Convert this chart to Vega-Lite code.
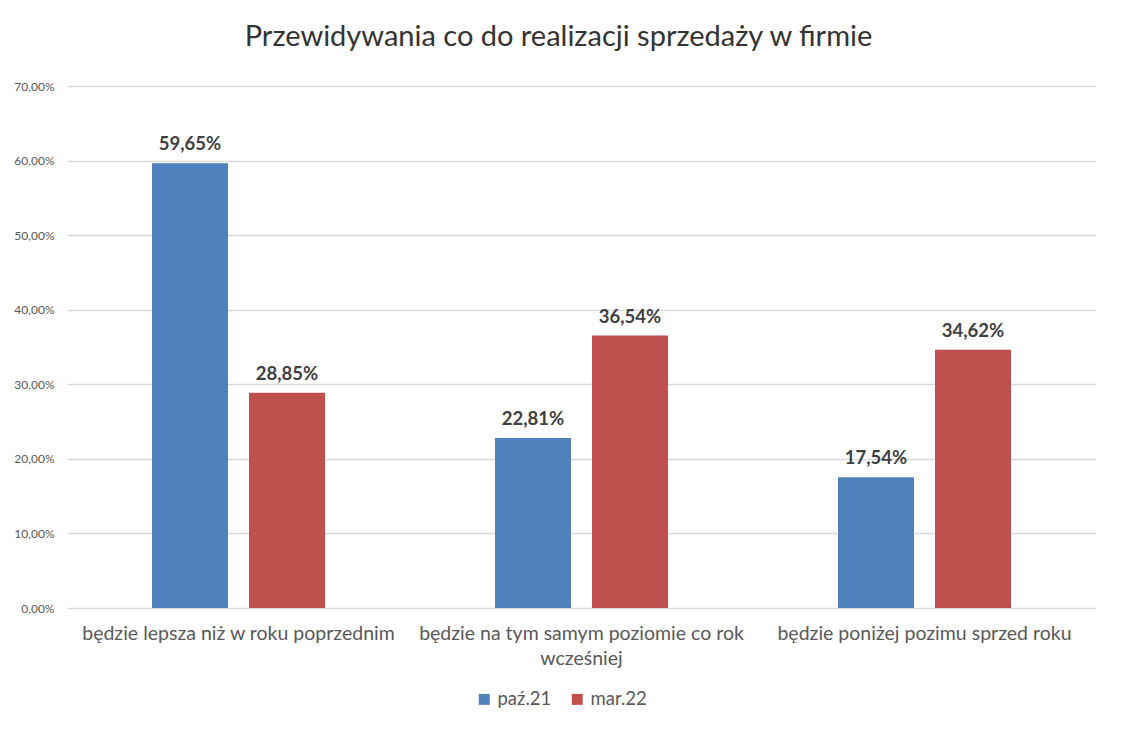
{
  "$schema": "https://vega.github.io/schema/vega-lite/v6.json",
  "autosize": "none",
  "width": 1029,
  "height": 522,
  "padding": {"left": 67, "top": 86, "right": 32, "bottom": 125},
  "background": "white",
  "title": {
    "text": "Przewidywania co do realizacji sprzedaży w firmie",
    "font": "Lato",
    "fontSize": 29,
    "fontWeight": "normal",
    "color": "#333333",
    "offset": 28,
    "dx": -23
  },
  "data": {
    "values": [
      {"kategoria": "będzie lepsza niż w roku poprzednim", "okres": "paź.21", "wartosc": 0.5965},
      {"kategoria": "będzie lepsza niż w roku poprzednim", "okres": "mar.22", "wartosc": 0.2885},
      {"kategoria": "będzie na tym samym poziomie co rok wcześniej", "okres": "paź.21", "wartosc": 0.2281},
      {"kategoria": "będzie na tym samym poziomie co rok wcześniej", "okres": "mar.22", "wartosc": 0.3654},
      {"kategoria": "będzie poniżej pozimu sprzed roku", "okres": "paź.21", "wartosc": 0.1754},
      {"kategoria": "będzie poniżej pozimu sprzed roku", "okres": "mar.22", "wartosc": 0.3462}
    ]
  },
  "encoding": {
    "x": {
      "field": "kategoria",
      "type": "nominal",
      "sort": null,
      "scale": {"paddingInner": 0, "paddingOuter": 0},
      "axis": {
        "title": null,
        "labelAngle": 0,
        "labelFont": "Lato",
        "labelFontSize": 19.5,
        "labelColor": "#595959",
        "labelPadding": 16,
        "labelLineHeight": 25,
        "labelLimit": 500,
        "ticks": false,
        "domain": false,
        "labelExpr": "datum.value == 'będzie na tym samym poziomie co rok wcześniej' ? ['będzie na tym samym poziomie co rok', 'wcześniej'] : datum.value"
      }
    },
    "xOffset": {
      "field": "okres",
      "type": "nominal",
      "sort": ["paź.21", "mar.22"],
      "scale": {"paddingInner": 0.2165, "paddingOuter": 0.876}
    },
    "y": {
      "field": "wartosc",
      "type": "quantitative",
      "scale": {"domain": [0, 0.7]},
      "axis": {
        "title": null,
        "format": ".2%",
        "values": [0, 0.1, 0.2, 0.3, 0.4, 0.5, 0.6, 0.7],
        "labelOverlap": false,
        "labelFont": "Lato",
        "labelFontSize": 12,
        "labelColor": "#595959",
        "labelPadding": 13,
        "ticks": false,
        "domain": false,
        "gridColor": "#d9d9d9",
        "gridWidth": 1.3
      }
    }
  },
  "layer": [
    {
      "mark": {"type": "bar"},
      "encoding": {
        "color": {
          "field": "okres",
          "type": "nominal",
          "sort": ["paź.21", "mar.22"],
          "scale": {"range": ["#4f81bd", "#c0504d"]},
          "legend": {
            "title": null,
            "orient": "none",
            "legendX": 408,
            "legendY": 604,
            "direction": "horizontal",
            "symbolType": "square",
            "symbolSize": 120,
            "symbolStrokeWidth": 0,
            "labelFont": "Lato",
            "labelFontSize": 18.5,
            "labelColor": "#595959",
            "columnPadding": 16
          }
        }
      }
    },
    {
      "mark": {
        "type": "text",
        "font": "Lato",
        "fontSize": 18.5,
        "fontWeight": "bold",
        "color": "#404040",
        "baseline": "alphabetic",
        "dy": -13
      },
      "encoding": {
        "text": {"field": "wartosc", "type": "quantitative", "format": ".2%"}
      }
    }
  ],
  "config": {
    "locale": {
      "number": {
        "decimal": ",",
        "thousands": " ",
        "grouping": [3],
        "currency": ["", " zł"]
      }
    },
    "view": {"stroke": null}
  }
}
